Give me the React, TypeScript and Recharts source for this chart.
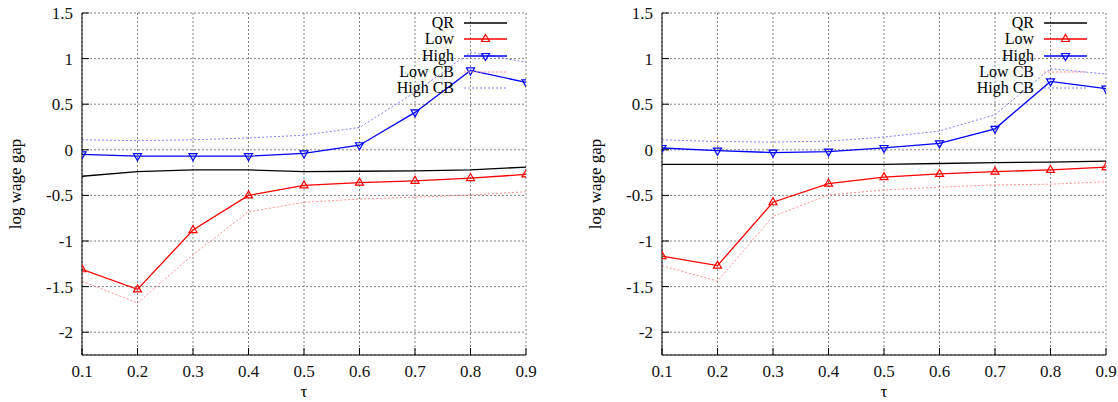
import React from 'react';
import { LineChart, Line, XAxis, YAxis, CartesianGrid, Legend } from 'recharts';

const tau = [0.1, 0.2, 0.3, 0.4, 0.5, 0.6, 0.7, 0.8, 0.9];
const yTicks = [-2, -1.5, -1, -0.5, 0, 0.5, 1, 1.5];
const xTicks = [0.1, 0.2, 0.3, 0.4, 0.5, 0.6, 0.7, 0.8, 0.9];
const legendLabels = ['QR', 'Low', 'High', 'Low CB', 'High CB'];
const yLabel = 'log wage gap';
const xLabel = 'τ';

// Left panel
const qrLeft = [-0.29, -0.24, -0.22, -0.22, -0.24, -0.235, -0.23, -0.22, -0.19];
const lowLeft = [-1.31, -1.53, -0.88, -0.5, -0.39, -0.36, -0.34, -0.31, -0.27];
const highLeft = [-0.05, -0.07, -0.07, -0.07, -0.04, 0.05, 0.41, 0.87, 0.74];
const lowCBLeft = [-1.44, -1.68, -1.15, -0.68, -0.575, -0.54, -0.52, -0.495, -0.46];
const highCBLeft = [0.11, 0.1, 0.11, 0.13, 0.16, 0.245, 0.63, 1.07, 0.96];

// Right panel
const qrRight = [-0.16, -0.16, -0.16, -0.16, -0.16, -0.15, -0.14, -0.135, -0.125];
const lowRight = [-1.165, -1.27, -0.575, -0.37, -0.3, -0.265, -0.24, -0.22, -0.19];
const highRight = [0.02, -0.01, -0.03, -0.02, 0.02, 0.07, 0.23, 0.75, 0.67];
const lowCBRight = [-1.27, -1.44, -0.73, -0.495, -0.44, -0.41, -0.385, -0.377, -0.35];
const highCBRight = [0.11, 0.09, 0.085, 0.095, 0.14, 0.205, 0.385, 0.89, 0.83];

const FONT = 'Liberation Serif, DejaVu Serif, serif';
const RED = '#ff0000';
const BLUE = '#0000ff';
const LRED = '#ff8c8c';
const LBLUE = '#8080ff';

function build(qr: number[], low: number[], high: number[], lowCB: number[], highCB: number[]) {
  return tau.map((t, i) => ({ tau: t, qr: qr[i], low: low[i], high: high[i], lowCB: lowCB[i], highCB: highCB[i] }));
}

const leftData = build(qrLeft, lowLeft, highLeft, lowCBLeft, highCBLeft);
const rightData = build(qrRight, lowRight, highRight, lowCBRight, highCBRight);

function triPath(cx: number, cy: number, up: boolean) {
  if (up) return `M${cx},${cy - 4.5} L${cx + 4},${cy + 2.5} L${cx - 4},${cy + 2.5} Z`;
  return `M${cx},${cy + 4.5} L${cx + 4},${cy - 2.5} L${cx - 4},${cy - 2.5} Z`;
}

const makeDot = (color: string, up: boolean) => (props: any) => {
  const { cx, cy, index } = props;
  if (cx == null || cy == null) return <g key={`e${index}`} />;
  return <path key={`d${index}`} d={triPath(cx, cy, up)} fill="none" stroke={color} strokeWidth={1.2} />;
};

const legendItems = [
  { label: legendLabels[0], color: '#000', dash: undefined as string | undefined, marker: 0 },
  { label: legendLabels[1], color: RED, dash: undefined, marker: 1 },
  { label: legendLabels[2], color: BLUE, dash: undefined, marker: 2 },
  { label: legendLabels[3], color: LRED, dash: '2 2', marker: 0 },
  { label: legendLabels[4], color: LBLUE, dash: '2 2', marker: 0 },
];

const LegendBox = () => (
  <div style={{ fontFamily: FONT, fontSize: 16, color: '#000' }}>
    {legendItems.map((it) => (
      <div key={it.label} style={{ display: 'flex', alignItems: 'center', height: 16.3 }}>
        <span style={{ width: 172, textAlign: 'right', lineHeight: '16.3px', whiteSpace: 'nowrap' }}>{it.label}</span>
        <svg width={43} height={16} style={{ marginLeft: 10, display: 'block', overflow: 'visible' }}>
          <line x1={0} y1={8} x2={43} y2={8} stroke={it.color} strokeWidth={it.dash ? 1 : 1.3} strokeDasharray={it.dash} />
          {it.marker ? <path d={triPath(21.5, 8, it.marker === 1)} fill="none" stroke={it.color} strokeWidth={1.2} /> : null}
        </svg>
      </div>
    ))}
  </div>
);

const YLabel = (props: any) => {
  const vb = props.viewBox || {};
  const cy = (vb.y || 0) + (vb.height || 0) / 2;
  return (
    <text x={15.5} y={cy} transform={`rotate(-90, 15.5, ${cy})`} textAnchor="middle" dominantBaseline="central"
      style={{ fontFamily: FONT, fontSize: 17 }} fill="#000">{yLabel}</text>
  );
};

const XLabel = (props: any) => {
  const vb = props.viewBox || {};
  const cx = (vb.x || 0) + (vb.width || 0) / 2;
  return (
    <text x={cx} y={397} textAnchor="middle" style={{ fontFamily: FONT, fontSize: 17 }} fill="#000">{xLabel}</text>
  );
};

const emptyTick = () => <g />;
const tickStyle = { fill: '#111', fontSize: 17, style: { fontFamily: FONT, fontSize: 17 } };

function Panel({ data }: { data: any[] }) {
  return (
    <LineChart width={538} height={402} data={data} margin={{ top: 13, right: 12, left: 0, bottom: 0 }}
      style={{ fontFamily: FONT }}>
      <CartesianGrid stroke="#808080" strokeDasharray="2 2" strokeWidth={1} />
      <XAxis dataKey="tau" type="number" domain={[0.1, 0.9]} ticks={xTicks} interval={0} allowDataOverflow
        tickSize={-7} tickMargin={17} height={47} stroke="#000" tick={tickStyle}
        tickFormatter={(v: number) => v.toFixed(1)} label={<XLabel />} />
      <XAxis xAxisId="top" orientation="top" dataKey="tau" type="number" domain={[0.1, 0.9]} ticks={xTicks}
        interval={0} allowDataOverflow tickSize={-7} height={0} stroke="#000" tick={emptyTick} />
      <YAxis type="number" domain={[-2.25, 1.5]} ticks={yTicks} interval={0} allowDataOverflow
        tickSize={-7} tickMargin={16} width={82} stroke="#000" tick={tickStyle} label={<YLabel />} />
      <YAxis yAxisId="right" orientation="right" type="number" domain={[-2.25, 1.5]} ticks={yTicks} interval={0}
        allowDataOverflow tickSize={-7} width={0} stroke="#000" tick={emptyTick} />
      <Legend layout="horizontal" verticalAlign="middle" align="center" content={<LegendBox />}
        wrapperStyle={{ position: 'absolute', left: 282, top: 15, width: 230, height: 82, margin: 0 }} />
      <Line dataKey="lowCB" stroke={LRED} strokeWidth={1} strokeDasharray="2 2" dot={false} isAnimationActive={false} />
      <Line dataKey="highCB" stroke={LBLUE} strokeWidth={1} strokeDasharray="2 2" dot={false} isAnimationActive={false} />
      <Line dataKey="qr" stroke="#000" strokeWidth={1.3} dot={false} isAnimationActive={false} />
      <Line dataKey="low" stroke={RED} strokeWidth={1.3} dot={makeDot(RED, true)} isAnimationActive={false} />
      <Line dataKey="high" stroke={BLUE} strokeWidth={1.3} dot={makeDot(BLUE, false)} isAnimationActive={false} />
    </LineChart>
  );
}

export default function App() {
  return (
    <div style={{ position: 'absolute', left: 0, top: 0, width: 1118, height: 402, background: '#fff', fontFamily: FONT }}>
      <div style={{ position: 'absolute', left: 0, top: 0 }}>
        <Panel data={leftData} />
      </div>
      <div style={{ position: 'absolute', left: 580, top: 0 }}>
        <Panel data={rightData} />
      </div>
    </div>
  );
}
